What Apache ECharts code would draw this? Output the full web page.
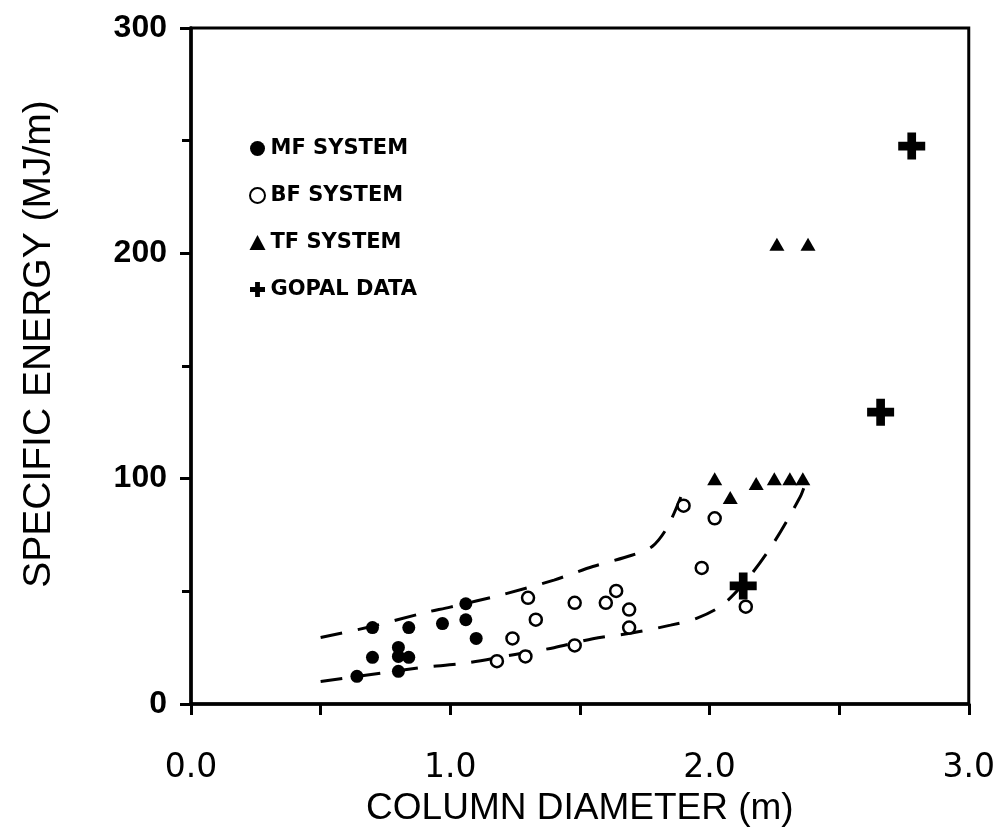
<!DOCTYPE html>
<html>
<head>
<meta charset="utf-8">
<script src="https://cdn.jsdelivr.net/npm/echarts@6/dist/echarts.min.js"></script>
<style>
html,body{margin:0;padding:0;background:#fff;}
#chart{width:998px;height:832px;}
</style>
</head>
<body>
<div id="chart"></div>
<script>
// ---- data ----
const seriesNames = ['MF SYSTEM', 'BF SYSTEM', 'TF SYSTEM', 'GOPAL DATA'];

const mfData = [
  [0.64, 12.3], [0.70, 20.7], [0.70, 33.9], [0.80, 25.1], [0.80, 21.1],
  [0.80, 14.5], [0.84, 20.7], [0.84, 33.9], [0.97, 35.7], [1.06, 44.5],
  [1.06, 37.4], [1.10, 29.1]
];
const bfData = [
  [1.18, 19.0], [1.24, 29.1], [1.29, 21.1], [1.30, 47.1], [1.33, 37.4],
  [1.48, 44.9], [1.48, 26.0], [1.60, 44.9], [1.64, 50.2], [1.69, 41.9],
  [1.69, 33.9], [1.90, 88.0], [1.97, 60.4], [2.02, 82.4], [2.14, 43.2]
];
const tfData = [
  [2.02, 100], [2.08, 91.6], [2.18, 97.8], [2.25, 100], [2.31, 100],
  [2.36, 100], [2.26, 204], [2.38, 204]
];
const gopalData = [
  [2.13, 52.4], [2.66, 129.5], [2.78, 247.6]
];
const upperBound = [
  [0.5, 29.5], [0.7, 34.5], [0.9, 40.5], [1.0, 43], [1.2, 48.5], [1.4, 55],
  [1.55, 61], [1.7, 66], [1.78, 70], [1.84, 79], [1.90, 95]
];
const lowerBound = [
  [0.5, 10], [0.75, 14], [0.9, 16.3], [1.05, 18], [1.25, 22], [1.4, 25],
  [1.55, 29], [1.7, 31.5], [1.85, 35], [1.95, 38], [2.05, 44], [2.15, 56],
  [2.25, 72], [2.35, 92], [2.37, 98]
];
const xTicks = [0, 1, 2, 3];
const yTicks = [0, 100, 200, 300];

// ---- chart ----
const crossPath = 'path://M0,9.5 H9.5 V0 H18.5 V9.5 H28 V18.5 H18.5 V28 H9.5 V18.5 H0 Z';
const font = "'Liberation Sans', Arial, sans-serif";
const wideFont = "'DejaVu Sans', sans-serif";
const chart = echarts.init(document.getElementById('chart'));

const dashed = (name, data) => ({
  name: name, type: 'line', data: data, showSymbol: false, silent: true,
  smooth: 0.3,
  lineStyle: { color: '#000', width: 3, type: [22, 16] }, z: 1
});

chart.setOption({
  animation: false,
  backgroundColor: '#fff',
  textStyle: { fontFamily: font, color: '#000' },
  grid: {
    left: 191, right: 27, top: 28, bottom: 123,
    show: true, borderColor: '#000', borderWidth: 3, backgroundColor: 'transparent'
  },
  legend: {
    orient: 'vertical', left: 244, top: 133, itemGap: 26,
    itemWidth: 16, itemHeight: 15,
    textStyle: { fontFamily: wideFont, fontSize: 21, fontWeight: 'bold', color: '#000' },
    data: [
      { name: seriesNames[0], icon: 'circle', itemStyle: { color: '#000' } },
      { name: seriesNames[1], icon: 'circle', itemStyle: { color: '#fff', borderColor: '#000', borderWidth: 2 } },
      { name: seriesNames[2], icon: 'triangle', itemStyle: { color: '#000' } },
      { name: seriesNames[3], icon: crossPath, itemStyle: { color: '#000' } }
    ]
  },
  xAxis: {
    type: 'value', min: 0, max: 3, interval: 1,
    name: 'COLUMN DIAMETER (m)', nameLocation: 'middle', nameGap: 86,
    nameTextStyle: { fontFamily: font, fontSize: 37, color: '#000' },
    axisLine: { show: true, lineStyle: { color: '#000', width: 3.5 } },
    axisTick: { show: true, length: 11, lineStyle: { color: '#000', width: 3 } },
    minorTick: { show: true, splitNumber: 2, length: 11, lineStyle: { color: '#000', width: 3 } },
    splitLine: { show: false },
    axisLabel: { margin: 48, fontFamily: wideFont, fontSize: 33, color: '#000',
      formatter: v => xTicks.includes(v) ? v.toFixed(1) : '' }
  },
  yAxis: {
    type: 'value', min: 0, max: 300, interval: 100,
    name: 'SPECIFIC ENERGY (MJ/m)', nameLocation: 'middle', nameGap: 132,
    nameTextStyle: { fontFamily: font, fontSize: 39, color: '#000', padding: [0, 0, 0, 44] },
    axisLine: { show: true, lineStyle: { color: '#000', width: 3.5 } },
    axisTick: { show: true, length: 11, lineStyle: { color: '#000', width: 3 } },
    minorTick: { show: true, splitNumber: 2, length: 9, lineStyle: { color: '#000', width: 3 } },
    splitLine: { show: false },
    axisLabel: { margin: 24, fontFamily: font, fontSize: 32, fontWeight: 'bold', color: '#000',
      formatter: v => yTicks.includes(v) ? String(v) : '' }
  },
  series: [
    dashed('upper', upperBound),
    dashed('lower', lowerBound),
    { name: seriesNames[0], type: 'scatter', data: mfData, symbol: 'circle', symbolSize: 13,
      itemStyle: { color: '#000', opacity: 1 }, z: 3 },
    { name: seriesNames[1], type: 'scatter', data: bfData, symbol: 'circle', symbolSize: 12,
      itemStyle: { color: '#fff', borderColor: '#000', borderWidth: 2.5, opacity: 1 }, z: 3 },
    { name: seriesNames[2], type: 'scatter', data: tfData, symbol: 'triangle', symbolSize: [15, 13],
      itemStyle: { color: '#000', opacity: 1 }, z: 3 },
    { name: seriesNames[3], type: 'scatter', data: gopalData, symbol: crossPath, symbolSize: 27,
      itemStyle: { color: '#000', opacity: 1 }, z: 3 }
  ]
});
</script>
</body>
</html>
